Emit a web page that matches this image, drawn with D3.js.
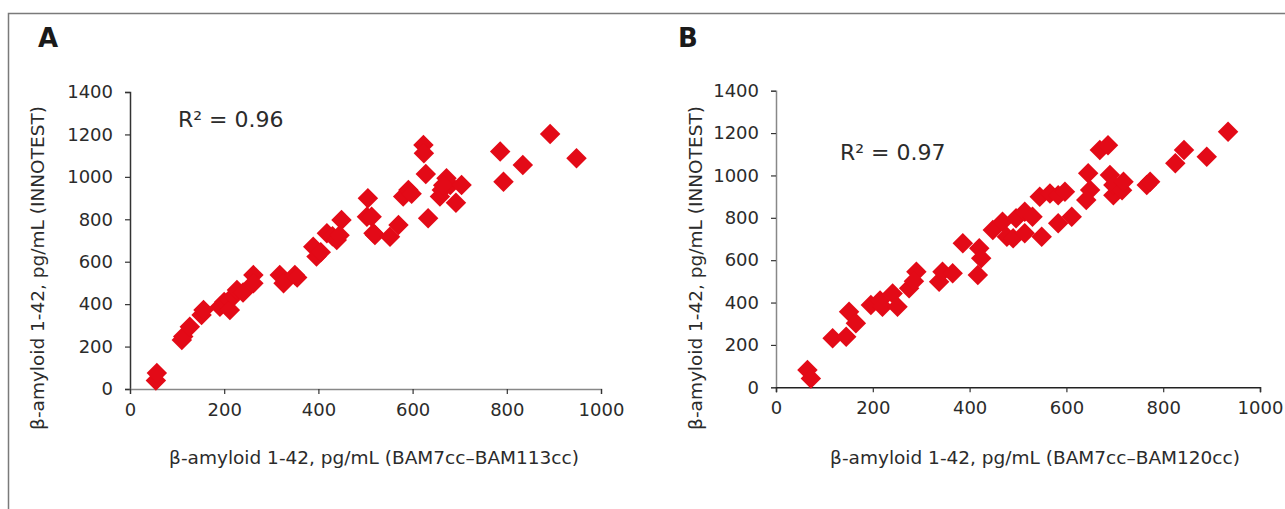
<!DOCTYPE html>
<html>
<head>
<meta charset="utf-8">
<script src="https://cdn.jsdelivr.net/npm/d3@7"></script>
<style>
  html, body { margin: 0; padding: 0; background: #fff; }
  svg { display: block; font-family: "DejaVu Sans", sans-serif; }
</style>
</head>
<body>
<div id="chart"></div>
<script>
// ---------------------------------------------------------
// DATA
// ---------------------------------------------------------
const xTicks = [0, 200, 400, 600, 800, 1000];
const yTicks = [0, 200, 400, 600, 800, 1000, 1200, 1400];

// Panel A: BAM7cc-BAM113cc vs INNOTEST
const aBam = [55, 57, 110, 113, 127, 152, 156, 191, 200, 212, 212, 220, 227, 240,
  262, 262, 318, 326, 350, 355, 389, 396, 405, 418, 430, 439, 449, 445,
  503, 505, 513, 517, 520, 552, 570, 580, 591, 598, 623, 624, 628, 633,
  658, 662, 672, 680, 665, 704, 692, 786, 793, 834, 892, 948];
const aInno = [40, 75, 231, 247, 294, 349, 372, 388, 410, 420, 372, 440, 467, 455,
  537, 498, 537, 498, 537, 525, 671, 624, 645, 734, 720, 702, 797, 725,
  812, 899, 812, 734, 726, 718, 773, 907, 938, 920, 1150, 1111, 1014, 805,
  907, 938, 993, 962, 960, 962, 878, 1119, 977, 1056, 1202, 1088];

// Panel B: BAM7cc-BAM120cc vs INNOTEST
const bBam = [65, 72, 117, 145, 151, 165, 196, 215, 220, 241, 251, 275, 290, 285,
  337, 344, 365, 386, 420, 424, 417, 448, 468, 477, 490, 496, 514, 530,
  514, 549, 545, 566, 583, 597, 583, 611, 645, 649, 641, 669, 686, 690,
  697, 697, 715, 718, 766, 773, 825, 843, 890, 934];
const bInno = [82, 42, 231, 239, 357, 302, 388, 410, 380, 443, 380, 467, 545, 500,
  498, 545, 538, 680, 656, 609, 530, 742, 781, 711, 703, 798, 829, 805,
  727, 711, 899, 915, 907, 923, 774, 805, 1010, 931, 884, 1120, 1143, 1002,
  907, 955, 930, 970, 955, 970, 1057, 1120, 1088, 1206];

const panels = [
  { letter: "A", r2: "R\u00b2 = 0.96", xs: aBam, ys: aInno,
    xTitle: "\u03b2-amyloid 1-42, pg/mL (BAM7cc\u2013BAM113cc)",
    x0: 130, x1: 601, y0: 389, y1: 92, letterX: 38, r2X: 178, r2Y: 127,
    yTitleX: 44, xTitleX: 374, yAxisCol: "#333", xAxisCol: "#888" },
  { letter: "B", r2: "R\u00b2 = 0.97", xs: bBam, ys: bInno,
    xTitle: "\u03b2-amyloid 1-42, pg/mL (BAM7cc\u2013BAM120cc)",
    x0: 776, x1: 1260, y0: 387.3, y1: 90.7, letterX: 678, r2X: 840, r2Y: 160,
    yTitleX: 702, xTitleX: 1035, yAxisCol: "#888", xAxisCol: "#222" }
];

// ---------------------------------------------------------
// SETUP
// ---------------------------------------------------------
const width = 1285, height = 509;
const textCol = "#2b2b2b";
const red = "#e30a17";
const fmt = d3.format("d");

const svg = d3.select("#chart").append("svg")
  .attr("width", width)
  .attr("height", height);

// outer frame (top + left)
svg.append("path")
  .attr("d", `M8.5,${height} V13.5 H${width}`)
  .attr("fill", "none")
  .attr("stroke", "#7a7a7a")
  .attr("stroke-width", 1.5);

const diamond = d3.symbol().type(d3.symbolSquare).size(210);

panels.forEach(p => {
  const x = d3.scaleLinear().domain([0, 1000]).range([p.x0, p.x1]);
  const y = d3.scaleLinear().domain([0, 1400]).range([p.y0, p.y1]);

  const g = svg.append("g");

  // panel letter
  g.append("text")
    .attr("x", p.letterX).attr("y", 47)
    .attr("font-size", 26).attr("font-weight", "bold")
    .attr("fill", "#1a1a1a")
    .text(p.letter);

  // axes
  const yAxis = g.append("g")
    .attr("transform", `translate(${p.x0},0)`)
    .call(d3.axisLeft(y).tickValues(yTicks).tickFormat(fmt)
      .tickSizeOuter(0).tickSize(5).tickPadding(12));
  yAxis.select(".domain").attr("stroke", p.yAxisCol).attr("stroke-width", 1.5);
  yAxis.selectAll(".tick line").attr("stroke", "#333").attr("stroke-width", 1.2);
  yAxis.selectAll("text").attr("font-size", 18).attr("fill", textCol)
    .attr("font-family", "DejaVu Sans, sans-serif");

  const xAxis = g.append("g")
    .attr("transform", `translate(0,${p.y0})`)
    .call(d3.axisBottom(x).tickValues(xTicks).tickFormat(fmt)
      .tickSizeOuter(0).tickSize(5).tickPadding(9));
  xAxis.select(".domain").attr("stroke", p.xAxisCol).attr("stroke-width", 1.5);
  xAxis.selectAll(".tick line").attr("stroke", "#333").attr("stroke-width", 1.2);
  xAxis.selectAll("text").attr("font-size", 18).attr("fill", textCol)
    .attr("font-family", "DejaVu Sans, sans-serif");

  // axis titles
  g.append("text")
    .attr("x", p.xTitleX).attr("y", 464)
    .attr("text-anchor", "middle")
    .attr("font-size", 18.5).attr("fill", textCol)
    .text(p.xTitle);

  g.append("text")
    .attr("transform", `translate(${p.yTitleX},268) rotate(-90)`)
    .attr("text-anchor", "middle")
    .attr("font-size", 18.5).attr("fill", textCol)
    .text("\u03b2-amyloid 1-42, pg/mL (INNOTEST)");

  // R squared
  g.append("text")
    .attr("x", p.r2X).attr("y", p.r2Y)
    .attr("font-size", 22).attr("fill", textCol)
    .text(p.r2);

  // points
  const pts = p.xs.map((v, i) => ({ x: v, y: p.ys[i] }));
  g.selectAll("path.pt")
    .data(pts)
    .enter().append("path")
    .attr("class", "pt")
    .attr("d", diamond)
    .attr("fill", red)
    .attr("transform", d => `translate(${x(d.x)},${y(d.y)}) rotate(45)`);
});
</script>
</body>
</html>
